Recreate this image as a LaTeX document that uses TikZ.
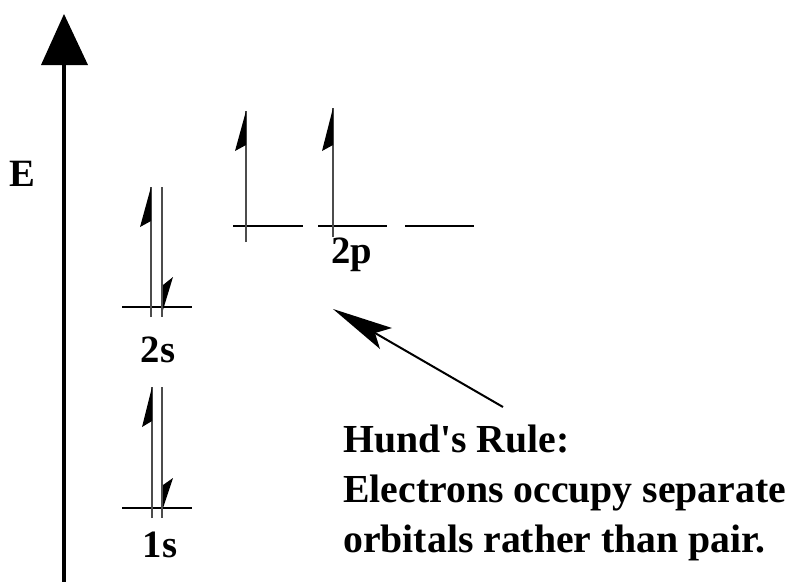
\documentclass[tikz,border=0pt]{standalone}
\usepackage{fontspec}
\setmainfont{Liberation Serif}[Ligatures=TeXOff]
\begin{document}
\begin{tikzpicture}[x=0.75pt,y=-0.75pt,
  level/.style={line width=2.2pt,black},
  elec/.style={line width=1.3pt,black!70},
  barb/.style={fill=black,draw=none},
  lbl/.style={font=\fontsize{29}{36}\selectfont\bfseries,inner sep=0pt},
  txt/.style={font=\fontsize{29.8}{37.5}\selectfont\bfseries,inner sep=0pt,anchor=base west}]
\useasboundingbox (0,0) rectangle (801,582);
% energy axis
\coordinate (axb) at (64,582);
\coordinate (axt) at (64,60);
\draw[line width=3pt] (axb) -- (axt);
\fill (64,14) -- (41,65) -- (88,65) -- cycle;
\node[lbl] (E) at (22.5,174) {E};
% 1s
\draw[level] (122,508) -- (192,508);
\draw[elec] (152,518) -- (152,387);
\fill[barb] (152,387) -- (142,427) -- (152,421) -- cycle;
\draw[elec] (162,387) -- (162,518);
\fill[barb] (163,508) -- (173,478) -- (163,485) -- cycle;
\node[lbl] (s1) at (160,545) {1s};
% 2s
\draw[level] (122,307) -- (192,307);
\draw[elec] (151,317) -- (151,187);
\fill[barb] (151,187) -- (140,227) -- (151,221) -- cycle;
\draw[elec] (162,187) -- (162,317);
\fill[barb] (163,310) -- (173,277) -- (163,285) -- cycle;
\node[lbl] (s2) at (158,350) {2s};
% 2p
\draw[level] (233,226) -- (303,226);
\draw[level] (318,226) -- (387,226);
\draw[level] (405,226) -- (474,226);
\draw[elec] (246,242) -- (246,111);
\fill[barb] (246,111) -- (235,151) -- (246,145) -- cycle;
\draw[elec] (333,237) -- (333,108);
\fill[barb] (333,108) -- (322,151) -- (333,145) -- cycle;
\node[lbl] (p2) at (352,255) {2p};
% Hund arrow
\coordinate (hs) at (503,407);
\coordinate (ht) at (375,333);
\draw[line width=1.5pt] (hs) -- (ht);
\fill (333,309) -- (392,328) -- (375,333) -- (380,349) -- cycle;
\node[txt] (h1) at (343,452) {Hund's Rule:};
\node[txt] (h2) at (343,502) {Electrons occupy separate};
\node[txt] (h3) at (343,552) {orbitals rather than pair.};
\end{tikzpicture}
\end{document}
